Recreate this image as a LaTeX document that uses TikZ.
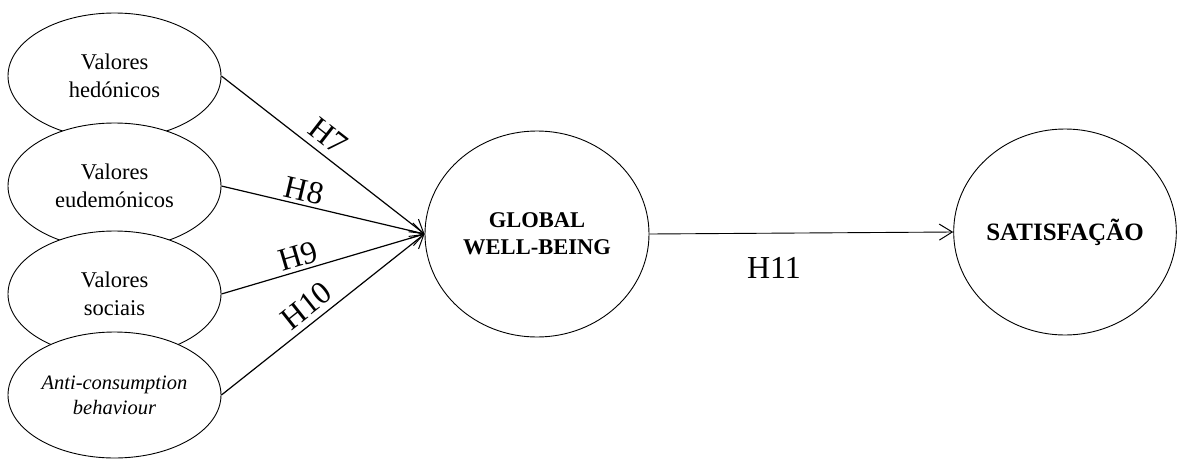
\documentclass[tikz,border=0pt]{standalone}
\usepackage{fontspec}
\setmainfont{Liberation Serif}
\usetikzlibrary{shapes.geometric,arrows.meta}
\begin{document}
\begin{tikzpicture}[x=1pt,y=-1pt,
  leftell/.style={ellipse,draw,fill=white,line width=0.9pt,minimum width=213pt,minimum height=126pt,inner sep=0pt,align=center,font=\fontsize{22.5}{28}\selectfont},
  bigell/.style={ellipse,draw,fill=white,line width=0.9pt,minimum width=224pt,minimum height=206pt,inner sep=0pt,align=center,font=\fontsize{22.5}{27}\selectfont\bfseries},
  link/.style={line width=1.2pt,-{Straight Barb[length=13pt,width=16pt,line width=1pt]}},
  hlab/.style={font=\fontsize{32}{32}\selectfont,inner sep=2pt}]
\useasboundingbox (0,0) rectangle (1177,458);
\node[leftell] (e1) at (114.5,76) {Valores\\hedónicos};
\node[leftell] (e2) at (114.5,186) {Valores\\eudemónicos};
\node[leftell] (e3) at (114.5,294) {Valores\\sociais};
\node[leftell,inner sep=-4pt,font=\fontsize{20.5}{25}\selectfont\itshape] (e4) at (114.5,395) {Anti-consumption\\behaviour};
\node[bigell] (gwb) at (537,234) {GLOBAL\\WELL-BEING};
\node[bigell,minimum width=222pt,font=\fontsize{25}{27}\selectfont\bfseries] (sat) at (1065,232) {SATISFAÇÃO};
\draw[link] (e1.east) -- node[hlab,sloped,above=5pt,pos=0.47] {H7} (gwb.west);
\draw[link] (e2.east) -- node[hlab,sloped,above=1pt,pos=0.39] {H8} (gwb.west);
\draw[link] (e3.east) -- node[hlab,sloped,above=1pt,pos=0.40] {H9} (gwb.west);
\draw[link] (e4.east) -- node[hlab,sloped,above=4pt,pos=0.47] {H10} (gwb.west);
\draw[link,line width=0.9pt] (gwb.east) -- (sat.west);
\node[hlab] (h11) at (774,268) {H11};
\end{tikzpicture}
\end{document}
